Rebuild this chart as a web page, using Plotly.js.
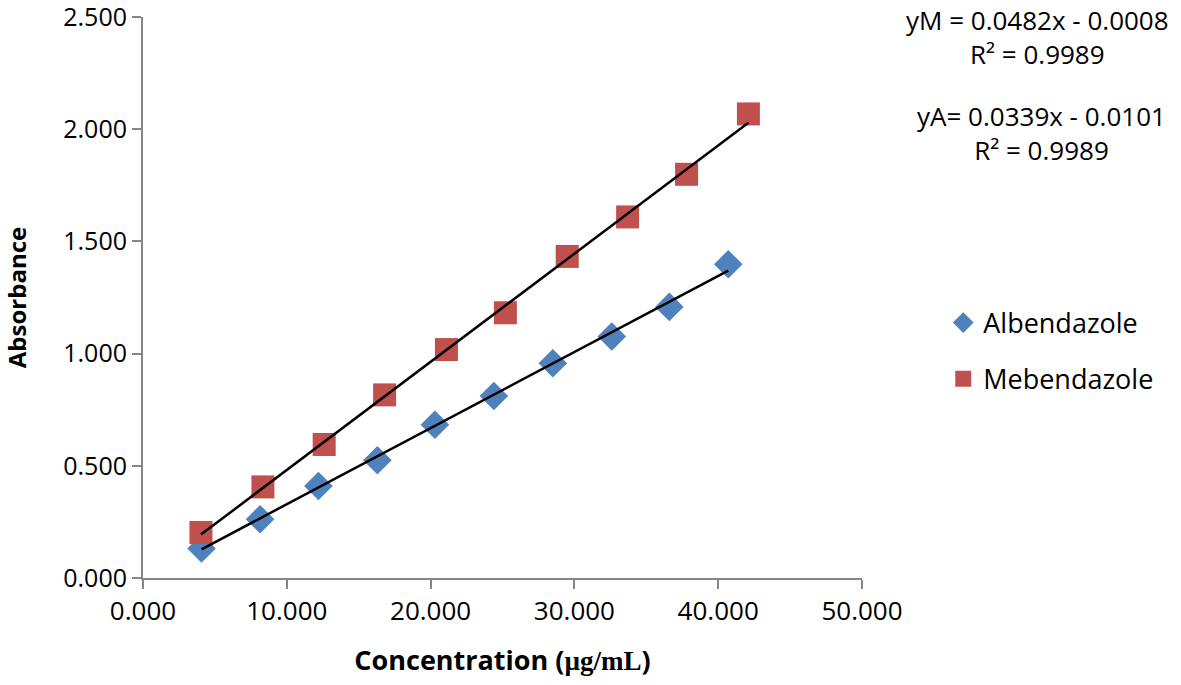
<!DOCTYPE html>
<html>
<head>
<meta charset="utf-8">
<script src="https://cdn.plot.ly/plotly-3.0.1.min.js"></script>
<style>html,body{margin:0;padding:0;background:#fff;}#chart{width:1181px;height:685px;}</style>
</head>
<body>
<div id="chart"></div>
<script>
// Data
const albX = [4.07, 8.14, 12.2, 16.3, 20.3, 24.4, 28.5, 32.6, 36.6, 40.7];
const albY = [0.132, 0.262, 0.410, 0.525, 0.683, 0.811, 0.957, 1.076, 1.208, 1.398];
const mebX = [4.03, 8.34, 12.6, 16.8, 21.1, 25.2, 29.5, 33.7, 37.8, 42.1];
const mebY = [0.203, 0.406, 0.595, 0.816, 1.018, 1.182, 1.433, 1.609, 1.799, 2.068];
// Trend line coefficients [slope, intercept] from the chart's equations
const albFit = [0.0339, -0.0101];
const mebFit = [0.0482, -0.0008];
const xTicks = [0, 10, 20, 30, 40, 50];
const yTicks = [0, 0.5, 1.0, 1.5, 2.0, 2.5];

function fitLine(xs, c) {
  const x0 = Math.min(...xs), x1 = Math.max(...xs);
  return {x: [x0, x1], y: [c[0]*x0 + c[1], c[0]*x1 + c[1]]};
}
const albLine = fitLine(albX, albFit);
const mebLine = fitLine(mebX, mebFit);

const FONT = 'Open Sans, Noto Sans, sans-serif';

const traces = [
  {x: albX, y: albY, type: 'scatter', mode: 'markers', name: 'Albendazole', legendgroup: 'a',
   marker: {symbol: 'diamond', size: 22, color: '#4F81BD'}},
  {x: mebX, y: mebY, type: 'scatter', mode: 'markers', name: 'Mebendazole', legendgroup: 'm',
   marker: {symbol: 'square', size: 23, color: '#C0504D'}},
  {x: albLine.x, y: albLine.y, type: 'scatter', mode: 'lines', showlegend: false,
   line: {color: '#000', width: 2.5}, hoverinfo: 'skip'},
  {x: mebLine.x, y: mebLine.y, type: 'scatter', mode: 'lines', showlegend: false,
   line: {color: '#000', width: 2.5}, hoverinfo: 'skip'}
];

const layout = {
  width: 1181, height: 685,
  margin: {l: 143, r: 319, t: 17, b: 107},
  paper_bgcolor: '#fff', plot_bgcolor: '#fff',
  font: {family: FONT, color: '#000', size: 26},
  showlegend: true,
  legend: {x: 1.113, y: 0.4046, xanchor: 'left', yanchor: 'middle',
           font: {size: 27, family: FONT}, tracegroupgap: 18, bgcolor: 'rgba(0,0,0,0)',
           itemwidth: 30},
  xaxis: {
    range: [0, 50], tickvals: xTicks, ticktext: xTicks.map(v => v.toFixed(3)),
    showgrid: false, zeroline: false, showline: true, linecolor: '#868686', linewidth: 2,
    ticks: 'outside', ticklen: 9, tickwidth: 2, tickcolor: '#868686',
    tickfont: {size: 26, family: FONT}, ticklabeloverflow: 'allow',
    title: {text: '<b>Concentration (<span style="font-family:Liberation Serif,serif">µg/mL</span>)</b>', font: {size: 27, family: FONT}, standoff: 24}
  },
  yaxis: {
    range: [0, 2.5], tickvals: yTicks, ticktext: yTicks.map(v => v.toFixed(3)),
    showgrid: false, zeroline: false, showline: true, linecolor: '#868686', linewidth: 2,
    ticks: 'outside', ticklen: 9, tickwidth: 2, tickcolor: '#868686',
    tickfont: {size: 25, family: FONT}, ticklabeloverflow: 'allow',
    title: {text: '<b>Absorbance</b>', font: {size: 24, family: FONT}, standoff: 40}
  },
  annotations: [
    {xref: 'paper', yref: 'paper', x: 1.2434, y: 1.0303, xanchor: 'center', yanchor: 'top', align: 'center',
     text: 'yM = 0.0482x - 0.0008<br>R² = 0.9989', showarrow: false, font: {size: 26, family: FONT}},
    {xref: 'paper', yref: 'paper', x: 1.2500, y: 0.7941, xanchor: 'center', yanchor: 'middle', align: 'center',
     text: 'yA= 0.0339x - 0.0101<br>R² = 0.9989', showarrow: false, font: {size: 26, family: FONT}}
  ]
};

Plotly.newPlot('chart', traces, layout, {displayModeBar: false, staticPlot: true});
</script>
</body>
</html>
